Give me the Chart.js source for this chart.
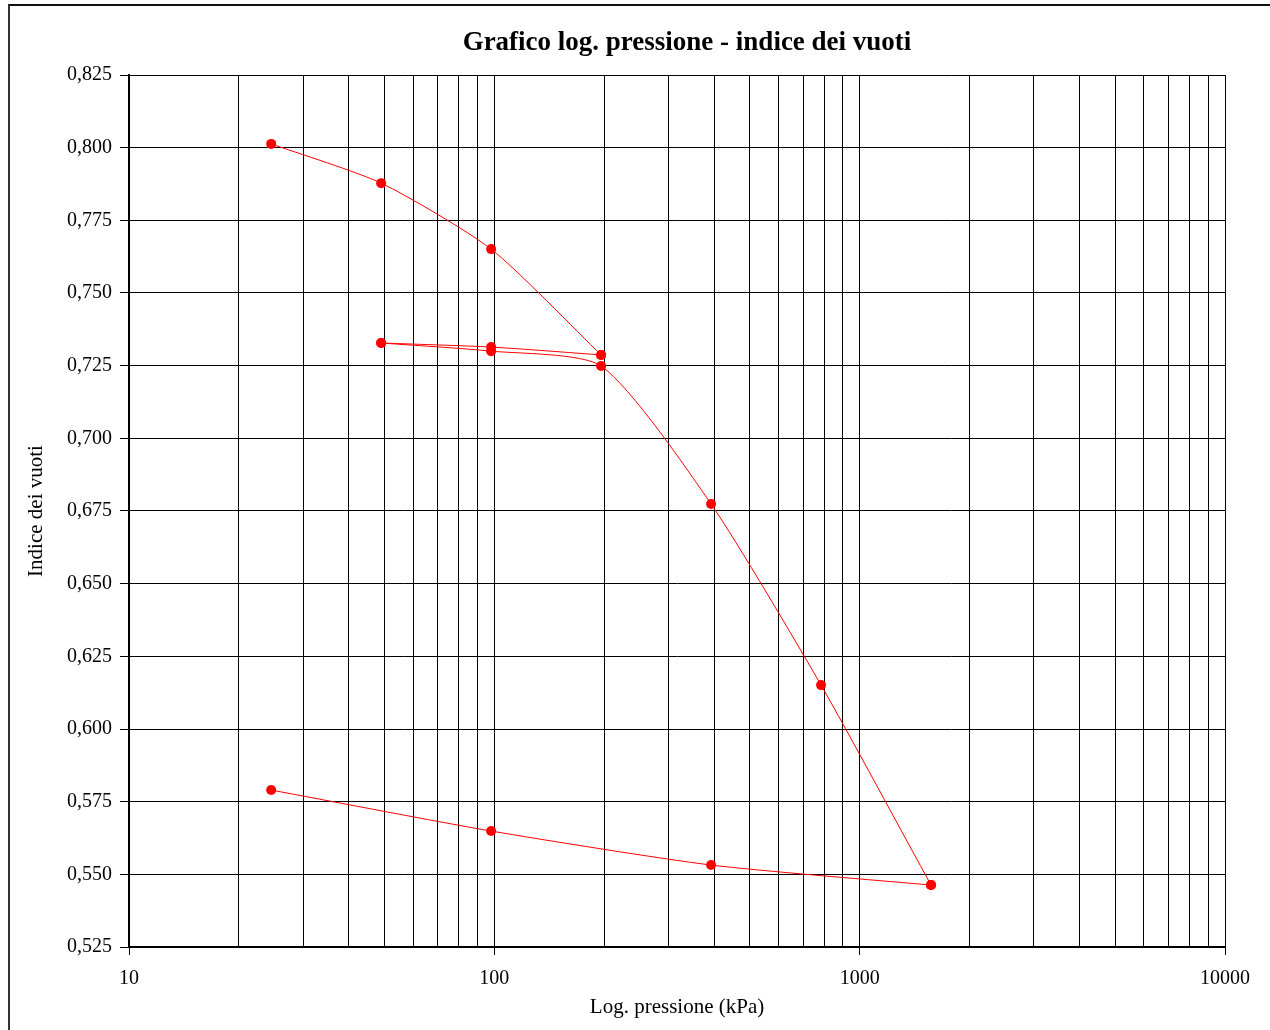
<!DOCTYPE html>
<html>
<head>
<meta charset="utf-8">
<script src="https://cdn.jsdelivr.net/npm/chart.js@4.4.1/dist/chart.umd.min.js"></script>
<style>
  html, body { margin: 0; padding: 0; background: #fff; overflow: hidden; }
  #wrap { position: relative; width: 1270px; height: 1030px; }
  #frame {
    position: absolute; left: 8px; top: 4px; width: 2000px; height: 2000px;
    border-left: 2px solid #333; border-top: 2px solid #111; pointer-events: none;
  }
  #title {
    position: absolute; left: 387px; width: 600px; top: 25px; text-align: center;
    font: bold 27px "Liberation Serif", "Times New Roman", serif; color: #000;
    line-height: 32px; white-space: nowrap;
  }
</style>
</head>
<body>
<div id="wrap">
  <canvas id="chart" width="1270" height="1030"></canvas>
  <div id="title">Grafico log. pressione - indice dei vuoti</div>
  <div id="frame"></div>
</div>
<script>
// pressure (kPa) and void ratio for each branch of the test
var loadP1 = [24.5, 49, 98, 196];
var loadE1 = [0.8013, 0.7878, 0.7651, 0.7287];

var unloadP1 = [196, 98, 49];
var unloadE1 = [0.7287, 0.7314, 0.7328];

var loadP2 = [49, 98, 196, 392, 784, 1568];
var loadE2 = [0.7328, 0.7300, 0.7249, 0.6774, 0.6151, 0.5463];

var unloadP2 = [1568, 392, 98, 24.5];
var unloadE2 = [0.5463, 0.5532, 0.5649, 0.5790];

// axis ticks
var xTicks = [10, 20, 30, 40, 50, 60, 70, 80, 90,
              100, 200, 300, 400, 500, 600, 700, 800, 900,
              1000, 2000, 3000, 4000, 5000, 6000, 7000, 8000, 9000, 10000];
var xLabels = [10, 100, 1000, 10000];
var yTicks = [0.525, 0.550, 0.575, 0.600, 0.625, 0.650, 0.675,
              0.700, 0.725, 0.750, 0.775, 0.800, 0.825];

function branch(px, ey) {
  return {
    data: px.map(function (p, i) { return { x: p, y: ey[i] }; }),
    showLine: true,
    borderColor: '#ff0000',
    borderWidth: 1,
    backgroundColor: '#ff0000',
    pointRadius: 5,
    pointBorderWidth: 0,
    tension: 0.22
  };
}

var serif = 'Liberation Serif, Times New Roman, serif';

var ctx = document.getElementById('chart');
var chart = new Chart(ctx, {
  type: 'scatter',
  data: {
    datasets: [
      branch(loadP1, loadE1),
      branch(unloadP1, unloadE1),
      branch(loadP2, loadE2),
      branch(unloadP2, unloadE2)
    ]
  },
  options: {
    responsive: false,
    animation: false,
    layout: { padding: { top: 75, right: 45, bottom: 0, left: 0 } },
    plugins: {
      legend: { display: false },
      tooltip: { enabled: false },
      title: { display: false }
    },
    scales: {
      x: {
        type: 'logarithmic',
        min: 10,
        max: 10000,
        afterBuildTicks: function (s) {
          s.ticks = xTicks.map(function (v) { return { value: v }; });
        },
        afterFit: function (s) { s.height = 83; },
        grid: {
          color: '#000',
          lineWidth: 1,
          tickLength: 8,
          tickColor: function (c) {
            return c.tick && xLabels.indexOf(c.tick.value) >= 0 ? '#000' : 'rgba(0,0,0,0)';
          }
        },
        border: { color: '#000', width: 2 },
        ticks: {
          autoSkip: false,
          maxRotation: 0,
          padding: 12,
          color: '#000',
          font: { family: serif, size: 20 },
          callback: function (v) { return xLabels.indexOf(v) >= 0 ? String(v) : ''; }
        },
        title: {
          display: true,
          text: 'Log. pressione (kPa)',
          color: '#000',
          font: { family: serif, size: 21 },
          padding: { top: 0, bottom: 10 }
        }
      },
      y: {
        min: 0.525,
        max: 0.825,
        afterBuildTicks: function (s) {
          s.ticks = yTicks.map(function (v) { return { value: v }; });
        },
        afterFit: function (s) { s.width = 129; },
        grid: { color: '#000', lineWidth: 1, tickLength: 9, tickColor: '#000' },
        border: { color: '#000', width: 2 },
        ticks: {
          padding: 8,
          color: '#000',
          font: { family: serif, size: 20 },
          callback: function (v) { return v.toFixed(3).replace('.', ','); }
        },
        title: {
          display: true,
          text: 'Indice dei vuoti',
          color: '#000',
          font: { family: serif, size: 21 },
          padding: { top: 24, bottom: 0 }
        }
      }
    }
  }
});
</script>
</body>
</html>
